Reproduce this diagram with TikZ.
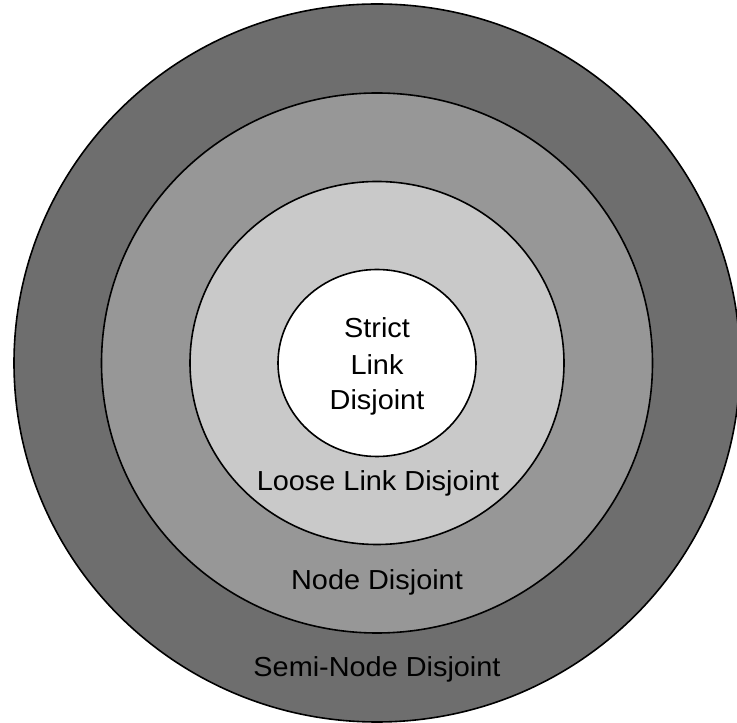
\documentclass[tikz,border=0pt]{standalone}
\usepackage{fontspec}
\setmainfont{Liberation Sans}
\usetikzlibrary{shapes.geometric}
\definecolor{ringA}{RGB}{110,110,110}
\definecolor{ringB}{RGB}{151,151,151}
\definecolor{ringC}{RGB}{201,201,201}
\tikzset{
  ring/.style={ellipse, draw=black, line width=1.6pt, inner sep=0pt},
  lbl/.style={anchor=base, font=\fontsize{27.5}{32}\selectfont, inner sep=0pt,
              xscale=1.05, transform shape}
}
\begin{document}
\begin{tikzpicture}[x=1pt,y=1pt]
  \useasboundingbox (0,0) rectangle (737,723);
  \fill[white] (0,0) rectangle (737,723);
  \coordinate (c) at (377,360);
  % nested disjointness classes, outermost first
  \node[ring, fill=ringA, minimum width=726pt, minimum height=718pt] (semi) at (c) {};
  \node[ring, fill=ringB, minimum width=551pt, minimum height=540pt] (nodeset) at (c) {};
  \node[ring, fill=ringC, minimum width=374pt, minimum height=363pt] (loose) at (c) {};
  \node[ring, fill=white, minimum width=198pt, minimum height=187pt] (strict) at (c) {};
  % labels (baselines)
  \node[lbl] (t1) at (377,385) {Strict};
  \node[lbl] (t2) at (377,348) {Link};
  \node[lbl] (t3) at (377,313) {Disjoint};
  \node[lbl] (t4) at (378,232) {Loose Link Disjoint};
  \node[lbl] (t5) at (377,133) {Node Disjoint};
  \node[lbl] (t6) at (377,46) {Semi-Node Disjoint};
\end{tikzpicture}
\end{document}
